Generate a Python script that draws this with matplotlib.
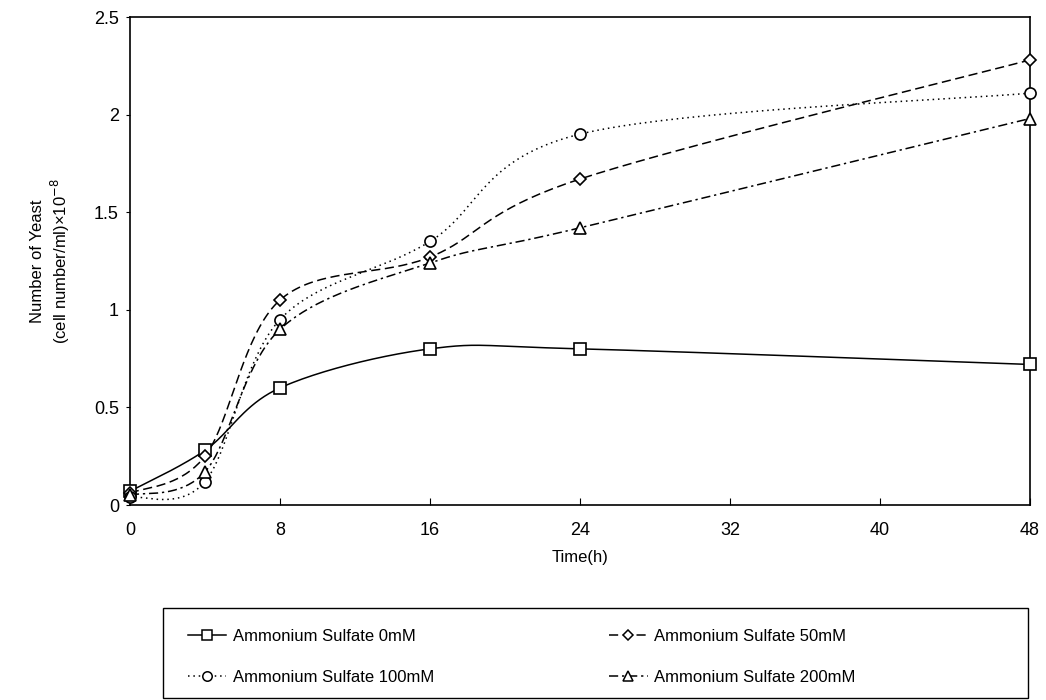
import numpy as np
import matplotlib.pyplot as plt
from matplotlib.patches import Rectangle
from matplotlib.ticker import FuncFormatter

plt.rcParams['font.family'] = ['Liberation Sans', 'DejaVu Sans']

# time points (h)
hours = [0, 4, 8, 16, 24, 48]

# yeast counts, cell number/ml x 10^-8
sulfate_0 = [0.07, 0.28, 0.60, 0.80, 0.80, 0.72]
sulfate_50 = [0.06, 0.25, 1.05, 1.27, 1.67, 2.28]
sulfate_100 = [0.04, 0.12, 0.95, 1.35, 1.90, 2.11]
sulfate_200 = [0.05, 0.17, 0.90, 1.24, 1.42, 1.98]

labels = ["Ammonium Sulfate 0mM", "Ammonium Sulfate 50mM",
          "Ammonium Sulfate 100mM", "Ammonium Sulfate 200mM"]

W, H = 1046, 700
x0, x1, y_top, y_bot = 130, 1030, 17, 505
XMAX, YMAX = 48, 2.5


def smooth(xs, ys, n=40):
    # parametric catmull-rom in pixel space, like a spreadsheet "smoothed line"
    sx = (x1 - x0) / XMAX
    sy = (y_bot - y_top) / YMAX
    p = np.column_stack([np.asarray(xs) * sx, np.asarray(ys) * sy])
    p = np.vstack([p[0], p, p[-1]])
    out = []
    for i in range(1, len(p) - 2):
        a, b, c, d = p[i - 1], p[i], p[i + 1], p[i + 2]
        c1 = b + (c - a) / 6
        c2 = c - (d - b) / 6
        t = np.linspace(0, 1, n)[:, None]
        seg = ((1 - t) ** 3) * b + 3 * ((1 - t) ** 2) * t * c1 + 3 * (1 - t) * t ** 2 * c2 + t ** 3 * c
        out.append(seg if i == 1 else seg[1:])
    out = np.vstack(out)
    return out[:, 0] / sx, out[:, 1] / sy


fig = plt.figure(figsize=(W / 100, H / 100), dpi=100)
ax = fig.add_axes([x0 / W, (H - y_bot) / H, (x1 - x0) / W, (y_bot - y_top) / H])

series = [
    (sulfate_0, '-', 's', 8),
    (sulfate_50, (0, (6, 3)), 'D', 6.5),
    (sulfate_100, (0, (1, 2.5)), 'o', 8),
    (sulfate_200, (0, (6, 2.5, 1.5, 2.5)), '^', 8),
]

handles = []
for (ys, ls, mk, ms), lab in zip(series, labels):
    sxs, sys_ = smooth(hours, ys)
    ax.plot(sxs, sys_, color='black', lw=1.1, ls=ls, clip_on=False)
    ax.plot(hours, ys, ls='none', marker=mk, ms=ms, mfc='white', mec='black',
            mew=1.2, clip_on=False, zorder=5)
    h, = ax.plot([], [], color='black', lw=1.1, ls=ls, marker=mk, ms=ms * 0.85,
                 mfc='white', mec='black', mew=1.1)
    handles.append(h)

ax.set_xlim(0, XMAX)
ax.set_ylim(0, YMAX)
ax.set_xticks(range(0, 49, 8))
ax.set_yticks([0, 0.5, 1, 1.5, 2, 2.5])
ax.yaxis.set_major_formatter(FuncFormatter(lambda v, p: f"{v:g}"))
ax.tick_params(axis='x', direction='in', length=5, labelsize=13, pad=12)
ax.tick_params(axis='y', direction='out', length=3, labelsize=13, pad=5)
for s in ax.spines.values():
    s.set_linewidth(1.2)

ax.set_xlabel("Time(h)", fontsize=12, labelpad=8)
ax.set_ylabel("Number of Yeast\n(cell number/ml)×10$^{-8}$", fontsize=12, labelpad=16)

# legend box below the plot
fig.patches.append(Rectangle((163 / W, 2 / H), 865 / W, 90 / H,
                             transform=fig.transFigure, fill=False,
                             edgecolor='black', lw=1.0))

order = [0, 2, 1, 3]
fig.legend([handles[i] for i in order], [labels[i] for i in order],
           loc='upper left', bbox_to_anchor=(188 / W, (H - 629) / H),
           ncol=2, fontsize=12, handlelength=2.3, handletextpad=0.4,
           borderpad=0, borderaxespad=0, labelspacing=1.55,
           columnspacing=10.5, numpoints=1, frameon=False)

fig.savefig("out.png", dpi=100)
